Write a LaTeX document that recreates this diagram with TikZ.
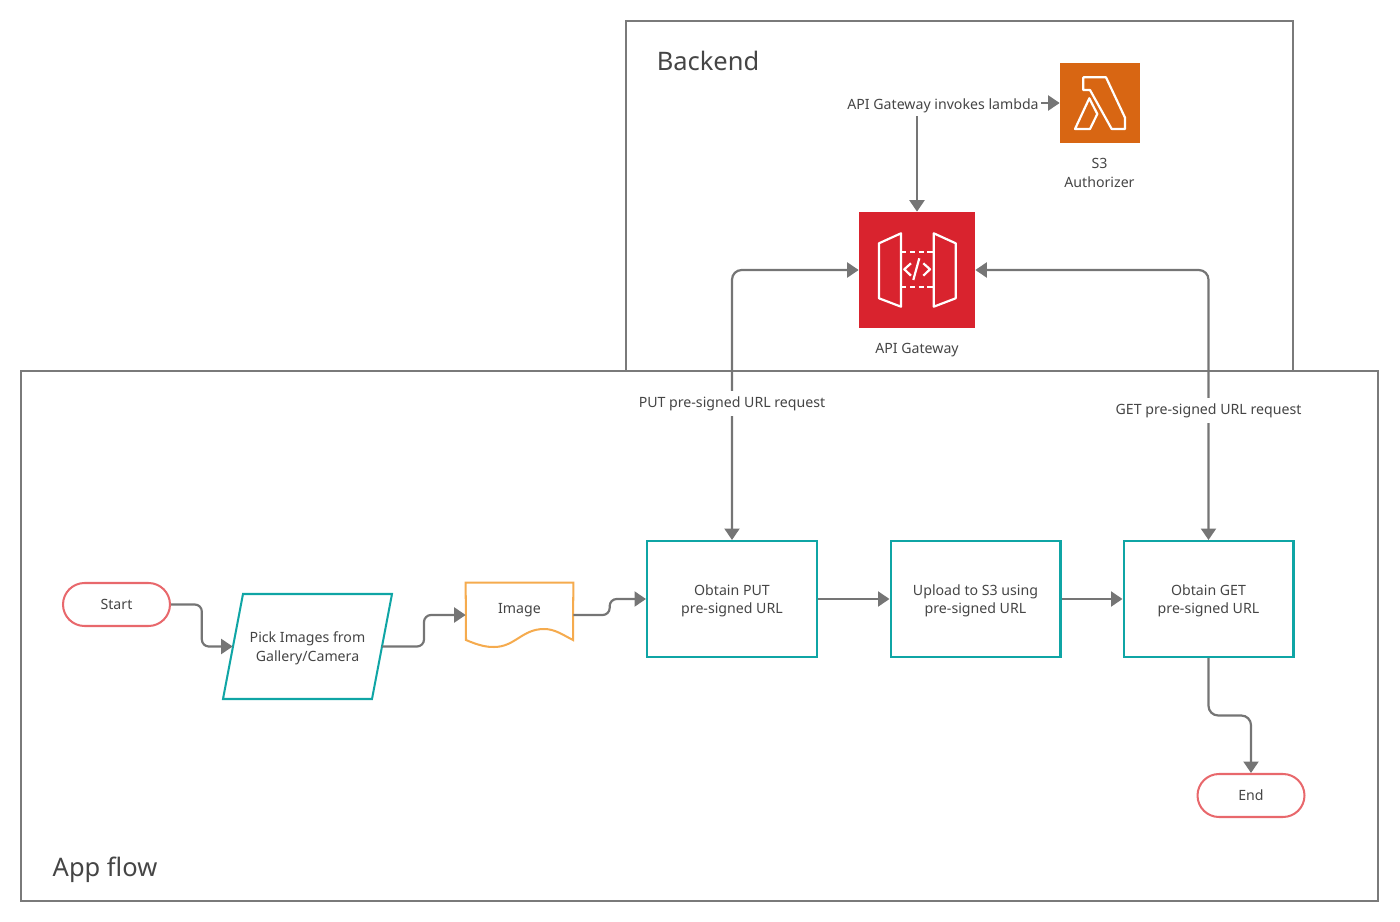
\documentclass[tikz,border=0pt]{standalone}
\usepackage{fontspec}
\setmainfont{Noto Sans}
\usetikzlibrary{arrows.meta,calc,shapes.misc}
\definecolor{linegray}{HTML}{757575}
\definecolor{framegray}{HTML}{7A7A7A}
\definecolor{textgray}{HTML}{454545}
\definecolor{flowteal}{HTML}{0FA5A5}
\definecolor{flowred}{HTML}{E8686C}
\definecolor{floworange}{HTML}{F5AB4E}
\definecolor{gwred}{HTML}{D9232E}
\definecolor{lamorange}{HTML}{D86613}
\begin{document}
\begin{tikzpicture}[x=0.02cm,y=-0.02cm,text=textgray,
  font=\fontsize{8.05}{10.7}\selectfont,
  frame/.style={draw=framegray,line width=1.15pt,minimum width=#1,inner sep=0pt},
  title/.style={font=\fontsize{14.5}{17}\selectfont},
  boxtext/.style={label={[align=center,yshift=-1pt]center:#1}},
  proc/.style={draw=flowteal,line width=1.15pt,minimum width=3.4cm,minimum height=2.32cm,inner sep=0pt},
  term/.style={rounded rectangle,draw=flowred,line width=1.15pt,minimum width=2.14cm,minimum height=0.86cm,inner sep=0pt},
  icon/.style={white,line width=1.25pt,line join=round},
  lbl/.style={fill=white,inner xsep=1.2pt,inner ysep=0pt,minimum height=0.52cm},
  a/.style={-{Triangle[length=2.3mm,width=3mm]},line width=1.25pt,linegray},
  ab/.style={{Triangle[length=2.3mm,width=3mm]}-{Triangle[length=2.3mm,width=3mm]},line width=1.25pt,linegray,rounded corners=5.5pt},
  elbow/.style={rounded corners=4pt,to path={let \p1=($(\tikztostart)!.5!(\tikztotarget)$),\p2=(\tikztostart),\p3=(\tikztotarget) in
    -- (\x1,\y2) -- (\x1,\y3) -- (\tikztotarget)}},
  vbow/.style={rounded corners=5.5pt,to path={let \p1=($(\tikztostart)!.5!(\tikztotarget)$),\p2=(\tikztostart),\p3=(\tikztotarget) in
    -- (\x2,\y1) -- (\x3,\y1) -- (\tikztotarget)}}]
\useasboundingbox (0,0) rectangle (1400,922);
\node[frame=13.34cm,minimum height=7cm] (backend) at (959.5,196) {};
\node[frame=27.14cm,minimum height=10.6cm] (appflow) at (699.5,636) {};
\node[title] (backendtitle) at (708,61) {Backend};
\node[title] (appflowtitle) at (105,869.5) {App flow};

\node[fill=gwred,minimum size=2.32cm,inner sep=0pt] (gateway) at (917,270) {};
\node[fill=lamorange,minimum size=1.6cm,inner sep=0pt] (lambda) at (1100,103) {};
\node[align=center] (gatewaytext) at (917,350.5) {API Gateway};
\node[align=center] (lambdatext) at (1099.5,173) {S3\\Authorizer};
\node[inner xsep=1.2pt,inner ysep=0pt,minimum height=0.42cm] (invoke) at (943,105.5) {API Gateway invokes lambda};

\draw[icon] (879,243.3) -- (901,233.3) -- (901,306.7) -- (879,298.3) -- cycle;
\draw[icon] (933.7,233.3) -- (955.7,243.3) -- (955.7,298.3) -- (933.7,306.7) -- cycle;
\draw[icon,dash pattern=on 3pt off 2pt] (901,252.3) -- (933.7,252.3);
\draw[icon,dash pattern=on 3pt off 2pt] (901,286.7) -- (933.7,286.7);
\draw[icon] (911,263.3) -- (904.3,269.3) -- (911,275.7);
\draw[icon] (923.3,263.3) -- (930,269.3) -- (923.3,275.7);
\draw[icon] (919.3,258.3) -- (913.3,280);
\draw[icon] (1083.3,77.3) -- (1106,77.3) -- (1125,117.7) -- (1125,129) -- (1111.7,129) -- (1090,90) -- (1083.3,90) -- cycle;
\draw[icon] (1075,129) -- (1089.3,98.3) -- (1097.3,114) -- (1090,129) -- cycle;

\node[term] (start) at (116.5,604.5) {Start};
\node[boxtext={Pick Images from\\Gallery/Camera},minimum width=2.98cm,minimum height=2.1cm,inner sep=0pt] (pick) at (307.5,646.5) {};
\draw[flowteal,line width=1.15pt] (243,594) -- (392,594) -- (372,699) -- (223,699) -- cycle;
\node[minimum width=2.14cm,minimum height=1.28cm,inner sep=0pt] (image) at (519.5,615) {\raisebox{0.28cm}{Image}};
\draw[floworange,line width=1.15pt] (image.north west) -- (image.north east) -- (573,640)
  .. controls (563,635) and (555,629) .. (544,629)
  .. controls (522,629) and (515,647) .. (494,647)
  .. controls (487,647) and (480,646) .. (466,640) -- cycle;
\node[proc,boxtext={Obtain PUT\\pre-signed URL}] (obtainput) at (732,599) {};
\node[proc,boxtext={Upload to S3 using\\pre-signed URL}] (upload) at (975.5,599) {};
\node[proc,boxtext={Obtain GET\\pre-signed URL}] (obtainget) at (1208.5,599) {};
\node[term] (finish) at (1251,795.5) {End};

\draw[a] (start.east) to[elbow] (pick.west);
\draw[a] (pick.east) to[elbow] (image.west);
\draw[a] (image.east) to[elbow] (obtainput.west);
\draw[a] (obtainput) -- (upload);
\draw[a] (upload) -- (obtainget);
\draw[a] (obtainget.south) to[vbow] (finish.north);
\draw[a] (invoke.south -| gateway.north) -- (gateway.north);
\draw[a] (invoke.east |- lambda.west) -- (lambda.west);
\draw[ab] (obtainput.north) |- (gateway.west);
\draw[ab] (obtainget.north) |- (gateway.east);
\node[lbl] (putlabel) at (732,403.5) {PUT pre-signed URL request};
\node[lbl] (getlabel) at (1208.5,410.5) {GET pre-signed URL request};
\end{tikzpicture}
\end{document}
